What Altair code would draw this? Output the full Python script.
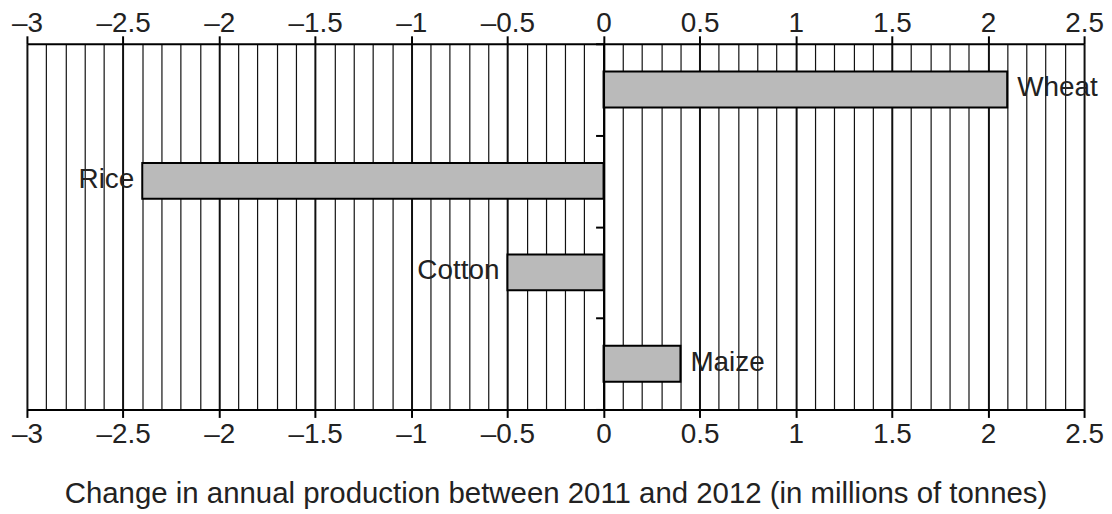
import altair as alt
import pandas as pd

# ---- data ----
crops = ["Wheat", "Rice", "Cotton", "Maize"]
changes = [2.1, -2.4, -0.5, 0.4]
x_min, x_max = -3, 2.5
tick_values = [round(-3 + 0.1 * i, 1) for i in range(56)]
x_title = "Change in annual production between 2011 and 2012 (in millions of tonnes)"

df = pd.DataFrame({"crop": crops, "change": changes})

W, H = 1061, 367
FONT = "Liberation Sans"
FS = 28
TXT = "#222222"
major = "abs(datum.value*2 - round(datum.value*2)) < 1e-6"
label_expr = f"({major}) ? replace(format(datum.value, '~g'), '\u2212', '\u2013') : ''"

xscale = alt.Scale(domain=[x_min, x_max], nice=False, zero=False)
yscale = alt.Scale(domain=crops, paddingInner=0, paddingOuter=0)

common_axis = dict(
    values=tick_values,
    labelExpr=label_expr,
    labelFont=FONT,
    labelFontSize=FS,
    labelColor=TXT,
    labelFlush=False,
    labelOverlap=False,
    tickSize=8,
    tickWidth=2,
    tickColor="black",
    tickOpacity={"condition": {"test": major, "value": 1}, "value": 0},
    domainColor="black",
    domainWidth=2,
)

bottom_axis = alt.Axis(
    orient="bottom",
    grid=True,
    gridColor="#111111",
    gridOpacity=1,
    gridWidth={"condition": {"test": major, "value": 2}, "value": 1.2},
    labelPadding=3,
    title=x_title,
    titleFont=FONT,
    titleFontSize=29.5,
    titleFontWeight="normal",
    titleColor=TXT,
    titlePadding=31,
    **common_axis,
)

top_axis = alt.Axis(
    orient="top",
    grid=False,
    title=None,
    labelBaseline="alphabetic",
    labelPadding=4,
    **common_axis,
)

zero_offset = -W * (0 - x_min) / (x_max - x_min)

y_axis = alt.Axis(
    orient="left",
    offset=zero_offset,
    labels=False,
    title=None,
    grid=False,
    tickBand="extent",
    tickSize=8,
    tickWidth=2,
    tickColor="black",
    domainColor="black",
    domainWidth=2,
    zindex=1,
)

base = alt.Chart(df)

bars = base.mark_bar(fill="#bababa", stroke="black", strokeWidth=2, size=36).encode(
    x=alt.X("change:Q", scale=xscale, axis=bottom_axis),
    x2=alt.datum(0),
    y=alt.Y("crop:N", scale=yscale, axis=y_axis, sort=crops),
)

pos_text = base.transform_filter("datum.change >= 0").mark_text(
    align="left", baseline="alphabetic", dx=10, dy=7, font=FONT, fontSize=FS, color=TXT
).encode(
    x=alt.X("change:Q", scale=xscale, axis=top_axis),
    y=alt.Y("crop:N", scale=yscale, axis=None, sort=crops),
    text="crop:N",
)

neg_text = base.transform_filter("datum.change < 0").mark_text(
    align="right", baseline="alphabetic", dx=-8, dy=7, font=FONT, fontSize=FS, color=TXT
).encode(
    x=alt.X("change:Q", scale=xscale, axis=None),
    y=alt.Y("crop:N", scale=yscale, axis=None, sort=crops),
    text="crop:N",
)

chart = (
    alt.layer(bars, pos_text, neg_text)
    .resolve_axis(x="independent", y="independent")
    .properties(
        width=W,
        height=H,
        background="white",
        autosize=alt.AutoSizeParams(type="none"),
        padding={"left": 19, "top": 35, "right": 20, "bottom": 100},
    )
    .configure_view(strokeOpacity=0)
)

chart.save("out.html", embed_options={"renderer": "svg", "actions": False})
